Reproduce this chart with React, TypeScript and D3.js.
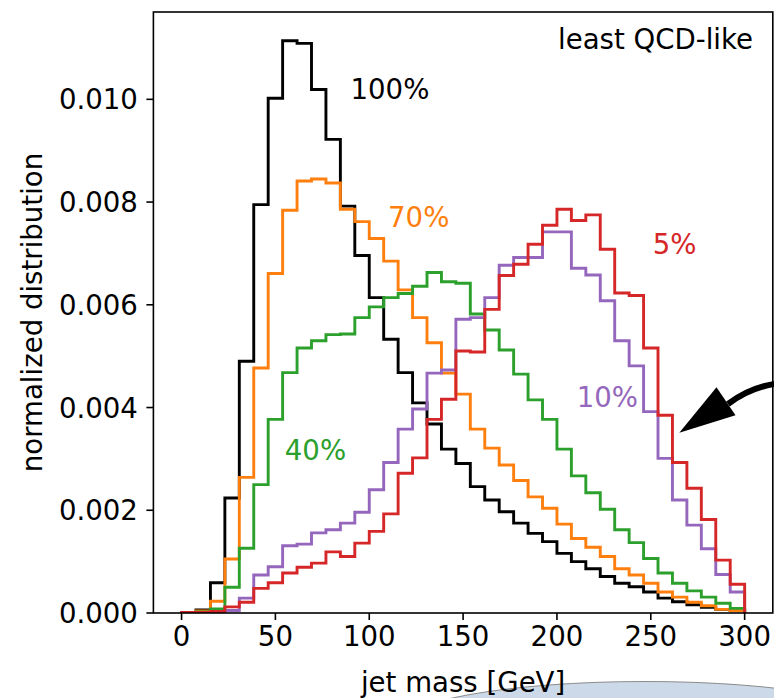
import React from "react";
import * as d3 from "d3";

// Jet-mass histograms: 39 equal bins between 0 and 300 GeV, normalised densities.
const binEdges = d3.range(40).map((i) => (i * 300) / 39);

const cut100 = [
  0.00001, 0.00006, 0.00059, 0.00224, 0.0049, 0.00795, 0.01002, 0.01114, 0.01109, 0.01019,
  0.00922, 0.00792, 0.00696, 0.00614, 0.00533, 0.00468, 0.00409, 0.00368, 0.00319, 0.00291,
  0.00246, 0.0022, 0.00197, 0.00175, 0.00155, 0.00139, 0.00116, 0.001, 0.00086, 0.00071,
  0.00058, 0.00051, 0.00041, 0.00029, 0.00022, 0.00016, 0.00011, 0.00007, 0.00005,
];
const cut70 = [
  0.00001, 0.00004, 0.00023, 0.00105, 0.00264, 0.00477, 0.00661, 0.00784, 0.00841, 0.00845,
  0.00837, 0.00786, 0.00762, 0.00729, 0.00685, 0.00629, 0.00575, 0.00526, 0.00467, 0.00426,
  0.00358, 0.00321, 0.00288, 0.00258, 0.00226, 0.00204, 0.00173, 0.00145, 0.00128, 0.0011,
  0.00086, 0.00074, 0.00058, 0.00041, 0.00031, 0.00021, 0.00014, 0.00007, 0.00005,
];
const cut40 = [
  0, 0.00002, 0.00008, 0.0005, 0.00126, 0.0025, 0.00377, 0.00468, 0.00516, 0.0053,
  0.00542, 0.00543, 0.00575, 0.00596, 0.00614, 0.00622, 0.00636, 0.00663, 0.00645, 0.00642,
  0.00582, 0.00551, 0.00512, 0.00465, 0.00415, 0.00377, 0.00319, 0.00267, 0.00234, 0.00202,
  0.00162, 0.00137, 0.00106, 0.00078, 0.00058, 0.00043, 0.00031, 0.00019, 0.00009,
];
const cut10 = [
  0, 0.00001, 0.00002, 0.00005, 0.00029, 0.00074, 0.0009, 0.00131, 0.00134, 0.00156,
  0.00162, 0.00175, 0.00196, 0.0024, 0.00293, 0.00358, 0.00397, 0.00467, 0.00473, 0.00572,
  0.00575, 0.00614, 0.00677, 0.00692, 0.00692, 0.00742, 0.00742, 0.00671, 0.00658, 0.00608,
  0.0053, 0.00481, 0.00392, 0.00301, 0.0022, 0.00171, 0.00125, 0.00075, 0.00041,
];
const cut5 = [
  0.00001, 0.00001, 0.00003, 0.00012, 0.00021, 0.00048, 0.00059, 0.00078, 0.00089, 0.00097,
  0.00119, 0.0011, 0.00136, 0.00159, 0.00193, 0.00272, 0.00302, 0.00377, 0.00416, 0.0051,
  0.00508, 0.00591, 0.00657, 0.00679, 0.00718, 0.00755, 0.00786, 0.00764, 0.00775, 0.00708,
  0.00623, 0.00618, 0.00516, 0.00385, 0.00293, 0.00243, 0.00182, 0.00103, 0.00056,
];

const seriesNames = ["100%", "70%", "40%", "10%", "5%"];
const seriesValues = [cut100, cut70, cut40, cut10, cut5];
const seriesColors = ["#000000", "#ff7f0e", "#2ca02c", "#9467bd", "#d62728"];
// label anchor in data coordinates (left edge, baseline)
const labelX = [90, 110, 55, 210.5, 251];
const labelY = [0.01, 0.00752, 0.00297, 0.00401, 0.00698];

const xTicks = [0, 50, 100, 150, 200, 250, 300];
const yTicks = [0, 0.002, 0.004, 0.006, 0.008, 0.01];

const W = 774;
const H = 698;
const left = 153.4;
const right = 772.8;
const top = 12;
const bottom = 613;
const FONT = "DejaVu Sans, sans-serif";
const FS = 27.6;

export default function App() {
  const x = d3.scaleLinear().domain([-15, 315]).range([left, right]);
  const y = d3.scaleLinear().domain([0, 0.0117]).range([bottom, top]);

  const stepPath = (vals: number[]) => {
    const pts: [number, number][] = [[binEdges[0], 0]];
    vals.forEach((v, i) => {
      pts.push([binEdges[i], v]);
      pts.push([binEdges[i + 1], v]);
    });
    pts.push([binEdges[binEdges.length - 1], 0]);
    return d3
      .line<[number, number]>()
      .x((d) => x(d[0]))
      .y((d) => y(d[1]))(pts) as string;
  };

  const fmt = d3.format(".3f");

  return (
    <svg
      width={W}
      height={H}
      style={{ position: "absolute", left: 0, top: 0, background: "#fff" }}
      fontFamily={FONT}
    >
      <defs>
        <clipPath id="plotArea">
          <rect x={left} y={top} width={right - left} height={bottom - top} />
        </clipPath>
      </defs>

      <ellipse cx={645} cy={727} rx={250} ry={45.5} fill="#ccd9e8" stroke="#8c8c8c" strokeWidth={1} />

      <g clipPath="url(#plotArea)">
        {seriesValues.map((vals, i) => (
          <path
            key={seriesNames[i]}
            d={stepPath(vals)}
            fill="none"
            stroke={seriesColors[i]}
            strokeWidth={2.9}
            strokeLinejoin="miter"
          />
        ))}
      </g>

      {seriesNames.map((name, i) => (
        <text key={name} x={x(labelX[i])} y={y(labelY[i])} fontSize={FS} fill={seriesColors[i]}>
          {name}
        </text>
      ))}

      <text x={753} y={49.3} fontSize={FS} textAnchor="end" fill="#000">
        least QCD-like
      </text>

      {/* spines */}
      <rect x={left} y={top} width={right - left} height={bottom - top} fill="none" stroke="#000" strokeWidth={1.6} />

      {/* x axis */}
      {xTicks.map((t) => (
        <g key={t}>
          <line x1={x(t)} x2={x(t)} y1={bottom} y2={bottom + 7} stroke="#000" strokeWidth={1.6} />
          <text x={x(t)} y={bottom + 33} fontSize={FS} textAnchor="middle" fill="#000">
            {t}
          </text>
        </g>
      ))}
      <text x={(left + right) / 2} y={692} fontSize={FS} textAnchor="middle" fill="#000">
        jet mass [GeV]
      </text>

      {/* y axis */}
      {yTicks.map((t) => (
        <g key={t}>
          <line x1={left - 7} x2={left} y1={y(t)} y2={y(t)} stroke="#000" strokeWidth={1.6} />
          <text x={left - 15.5} y={y(t) + 10} fontSize={FS} textAnchor="end" fill="#000">
            {fmt(t)}
          </text>
        </g>
      ))}
      <text
        transform={`translate(42,${(top + bottom) / 2}) rotate(-90)`}
        fontSize={FS}
        textAnchor="middle"
        fill="#000"
      >
        normalized distribution
      </text>

      {/* annotation arrow entering from the right */}
      <path d="M800,383 Q760,380 728,404" fill="none" stroke="#000" strokeWidth={6} />
      <polygon points="679.3,432.7 716.5,387.2 735.5,415.2" fill="#000" />
    </svg>
  );
}
